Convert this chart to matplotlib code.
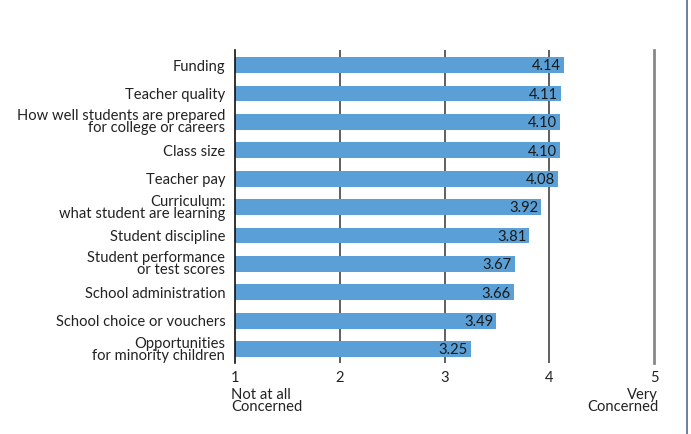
import matplotlib.pyplot as plt
import matplotlib.transforms as mtransforms

plt.rcParams['font.family'] = ['Lato', 'DejaVu Sans']

categories = [
    'Funding',
    'Teacher quality',
    'How well students are prepared\nfor college or careers',
    'Class size',
    'Teacher pay',
    'Curriculum:\nwhat student are learning',
    'Student discipline',
    'Student performance\nor test scores',
    'School administration',
    'School choice or vouchers',
    'Opportunities\nfor minority children',
]
scores = [4.14, 4.11, 4.10, 4.10, 4.08, 3.92, 3.81, 3.67, 3.66, 3.49, 3.25]
xticks = [1, 2, 3, 4, 5]

W, H = 691, 434
FS = 10.6
fig = plt.figure(figsize=(W / 100, H / 100), dpi=100)
ax = fig.add_axes([235 / W, (H - 363) / H, (654 - 235) / W, (363 - 50) / H])

ypos = list(range(len(categories)))

# grid lines behind the bars
for x in [2, 3, 4]:
    ax.axvline(x, color='#444444', linewidth=1.2, zorder=0)
ax.axvline(5, color='#888888', linewidth=2.0, zorder=0, clip_on=False)

ax.barh(ypos, [s - 1 for s in scores], left=1, height=0.56,
        color='#5a9fd5', zorder=2)

for y, s in zip(ypos, scores):
    ax.annotate(f'{s:.2f}', xy=(s, y), xytext=(-2, -1), textcoords='offset points',
                ha='right', va='center', fontsize=FS, color='#1a1a1a', zorder=3)

ax.set_xlim(1, 5)
ax.set_ylim(10.49, -0.53)
ax.set_yticks(ypos)
ax.set_yticklabels(categories, fontsize=FS, color='#222222', linespacing=0.82)
ax.set_xticks(xticks)
ax.set_xticklabels([str(t) for t in xticks], fontsize=FS, color='#222222')
ax.tick_params(axis='both', length=0)
ax.tick_params(axis='y', pad=7)
ax.tick_params(axis='x', pad=6)

for side in ['top', 'right', 'bottom']:
    ax.spines[side].set_visible(False)
ax.spines['left'].set_color('#111111')
ax.spines['left'].set_linewidth(1.2)

trans = mtransforms.blended_transform_factory(ax.transData, ax.transAxes)
ax.text(0.96, -0.08, 'Not at all\nConcerned', transform=trans, ha='left', va='top',
        fontsize=FS, color='#222222', linespacing=0.82)
ax.text(5.04, -0.08, 'Very\nConcerned', transform=trans, ha='right', va='top',
        fontsize=FS, color='#222222', linespacing=0.82, multialignment='right')

# right border line
fig.add_artist(plt.Line2D([687 / W, 687 / W], [0, 1], color='#4f6c8c', linewidth=1.2))

fig.savefig('out.png', dpi=100)
